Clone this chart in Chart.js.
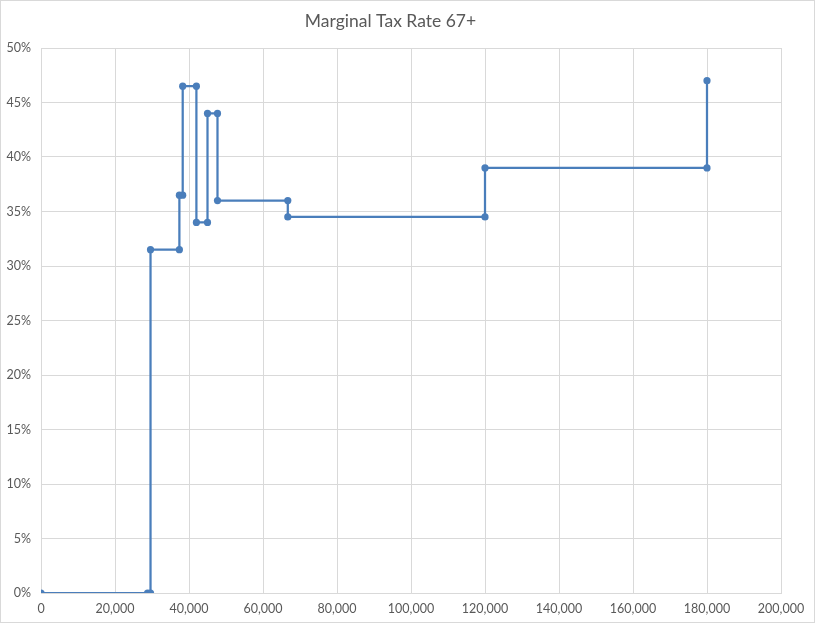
<!DOCTYPE html>
<html>
<head>
<meta charset="utf-8">
<script src="https://cdn.jsdelivr.net/npm/chart.js@4"></script>
<style>
  html, body { margin: 0; padding: 0; background: #fff; }
  #wrap { width: 815px; height: 624px; }
</style>
</head>
<body>
<div id="wrap"><canvas id="myChart"></canvas></div>
<script>
// income steps and marginal rate (%)
const incomes = [0, 28800, 29600, 29600, 37400, 37400, 38300, 38300, 42000, 42000,
                 45000, 45000, 47700, 47700, 66700, 66700, 120000, 120000, 180000, 180000];
const rates = [0, 0, 0, 31.5, 31.5, 36.5, 36.5, 46.5, 46.5, 34,
               34, 44, 44, 36, 36, 34.5, 34.5, 39, 39, 47];

const points = incomes.map((x, i) => ({ x: x, y: rates[i] }));

const blue = '#4a7ebb';
const gridGray = '#d9d9d9';
const textGray = '#595959';

// thin outer frame like the Excel chart area
const framePlugin = {
  id: 'frame',
  afterDraw(chart) {
    const c = chart.ctx;
    c.save();
    c.strokeStyle = gridGray;
    c.lineWidth = 1;
    c.strokeRect(0.5, 0.5, chart.width - 1, chart.height - 2);
    c.restore();
  }
};

const ctx = document.getElementById('myChart');

new Chart(ctx, {
  type: 'scatter',
  data: {
    datasets: [{
      label: 'Marginal Tax Rate',
      data: points,
      showLine: true,
      borderColor: blue,
      backgroundColor: blue,
      borderWidth: 2.25,
      pointRadius: 3.6,
      pointBorderWidth: 0,
      pointHoverRadius: 4
    }]
  },
  options: {
    responsive: true,
    maintainAspectRatio: false,
    animation: false,
    layout: { padding: { left: 0, right: 34, top: 0, bottom: 0 } },
    plugins: {
      legend: { display: false },
      tooltip: { enabled: false },
      title: {
        display: true,
        text: 'Marginal Tax Rate 67+',
        color: textGray,
        font: { family: 'Lato', size: 17.5, weight: 'normal' },
        padding: { top: 11, bottom: 16 }
      }
    },
    scales: {
      x: {
        type: 'linear',
        min: 0,
        max: 200000,
        afterFit: s => { s.height = 31; },
        border: { color: gridGray },
        grid: { color: gridGray, drawTicks: false },
        ticks: {
          stepSize: 20000,
          padding: 8,
          color: textGray,
          font: { family: 'Lato', size: 12.5 },
          callback: v => v.toLocaleString('en-US')
        }
      },
      y: {
        min: 0,
        max: 50,
        afterFit: s => { s.width = 41; },
        border: { color: gridGray },
        grid: { color: gridGray, drawTicks: false },
        ticks: {
          stepSize: 5,
          padding: 10,
          color: textGray,
          font: { family: 'Lato', size: 12.5 },
          callback: v => v + '%'
        }
      }
    }
  },
  plugins: [framePlugin]
});
</script>
</body>
</html>
